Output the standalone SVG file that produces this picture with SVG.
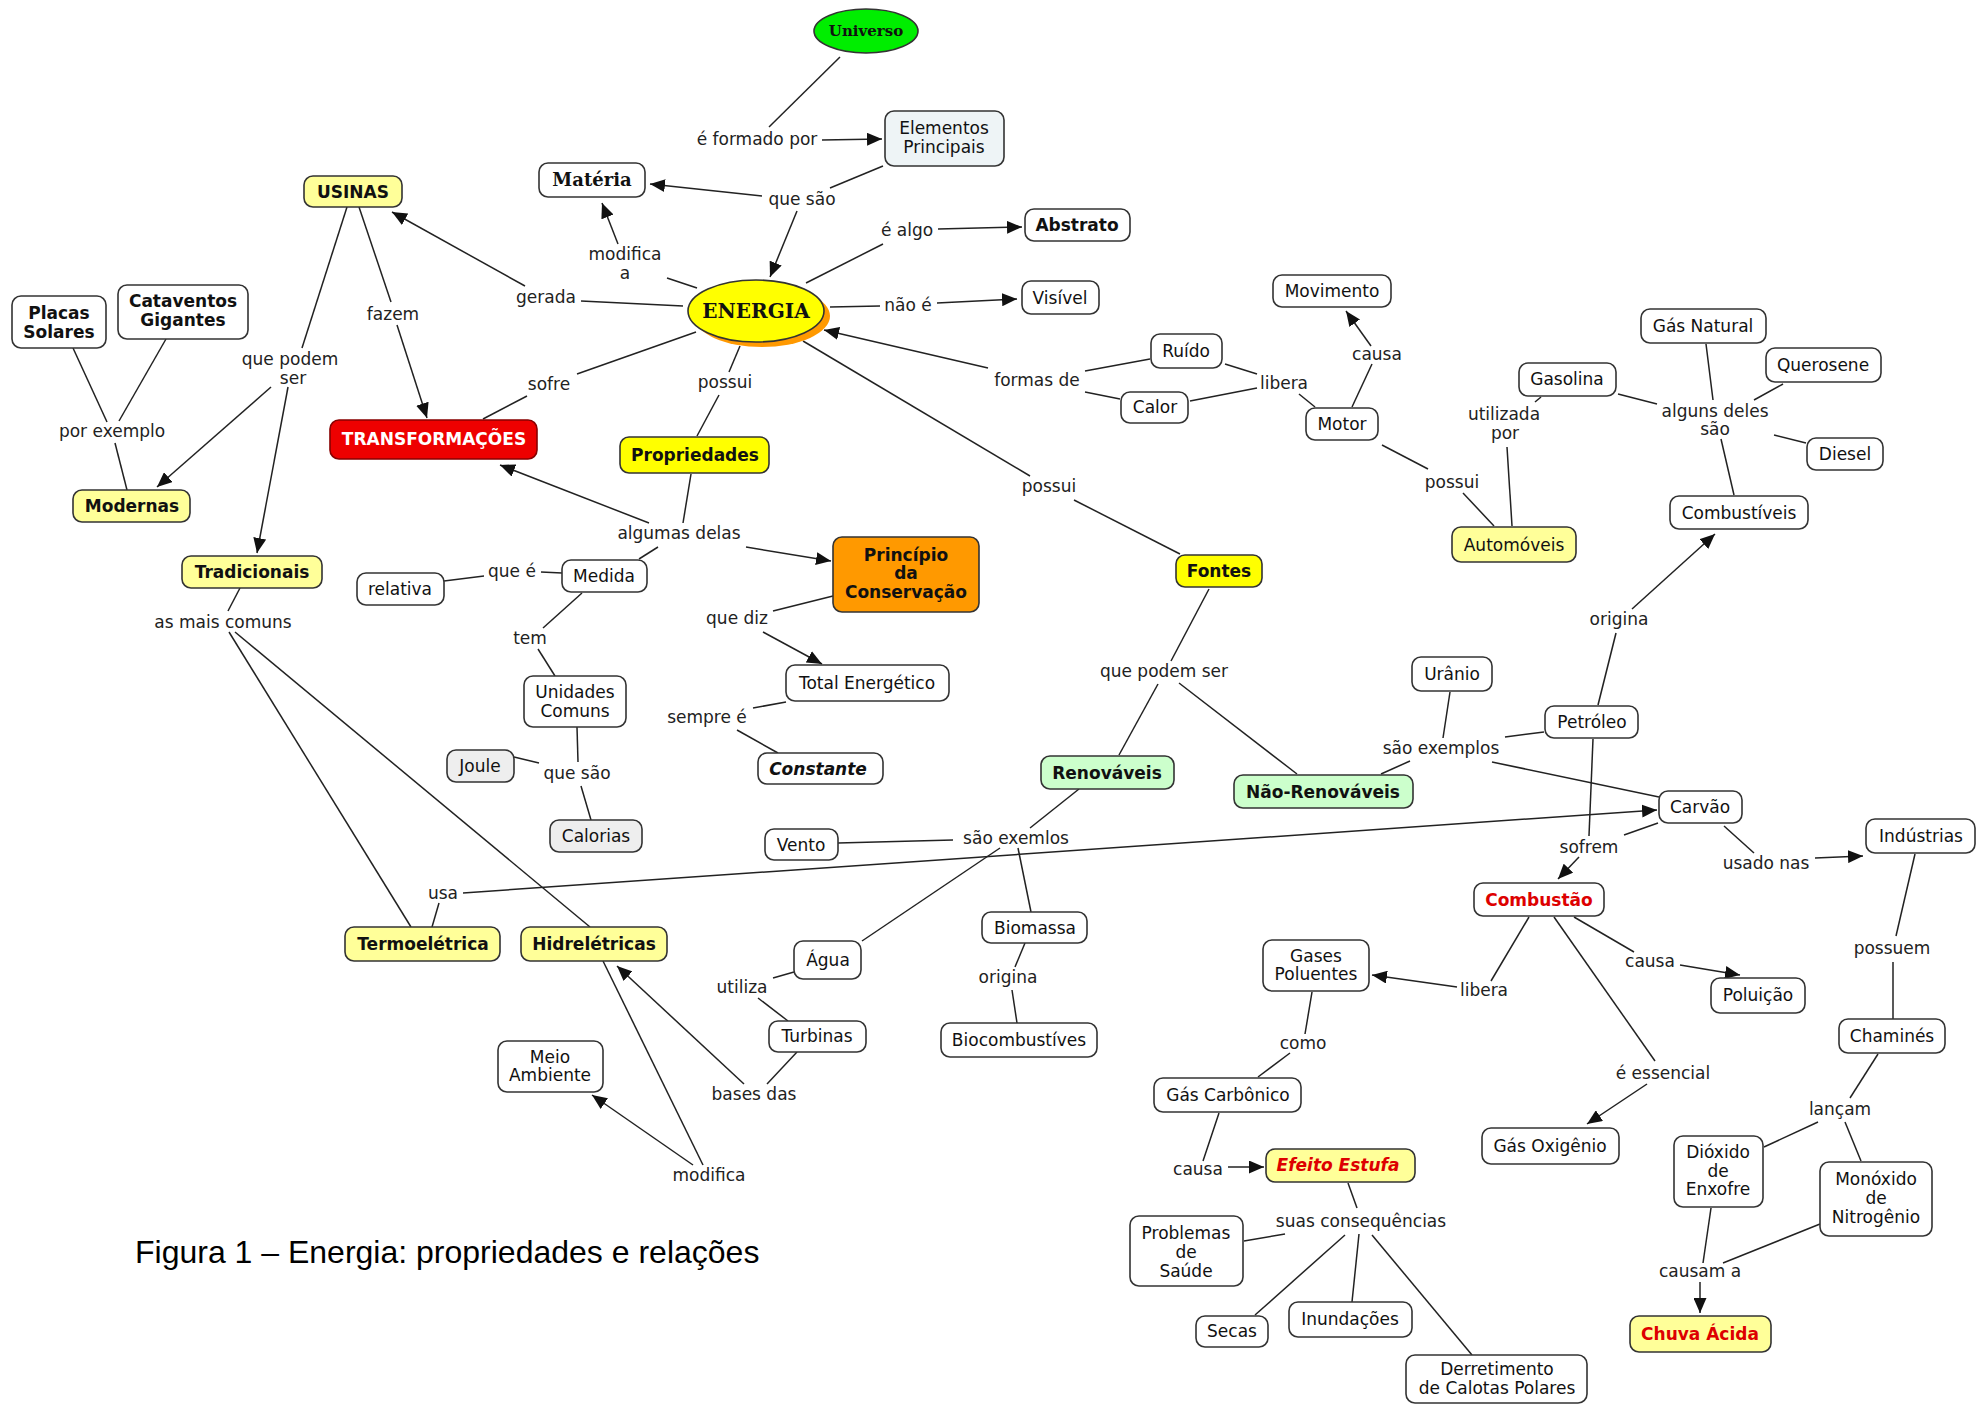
<svg xmlns="http://www.w3.org/2000/svg" width="1977" height="1406" viewBox="0 0 1977 1406">
<defs>
<marker id="ah" viewBox="0 0 15 13" refX="15" refY="6.5" markerWidth="15" markerHeight="13" markerUnits="userSpaceOnUse" orient="auto"><path d="M0,0 L15,6.5 L0,13 z" fill="#111"/></marker>
<style>
text{font-family:"DejaVu Sans",Verdana,sans-serif;font-size:17px;text-anchor:middle;fill:#111}
.b{font-weight:bold}
.i{font-style:italic}
.s{font-family:"DejaVu Serif",serif;font-weight:bold}
.red{fill:#dd0000}
.w{fill:#fff}
.lbl text{fill:#222}
rect{fill:#fff;stroke:#333;stroke-width:1.6}
.y rect{fill:#ffff99}
.yy rect{fill:#ffff00}
.g rect{fill:#ccffcc}
.gr rect{fill:#eeeeee}
.o rect{fill:#ff9900}
.cap{font-family:"Liberation Sans",Arial,sans-serif;font-size:32px;text-anchor:start;fill:#000}
#connectors line{stroke:#222;stroke-width:1.5}
#connectors .a{marker-end:url(#ah)}
</style>
</defs>
<rect x="0" y="0" width="1977" height="1406" style="fill:#fff;stroke:none"/>

<g id="connectors">
<line x1="840" y1="57" x2="769" y2="127"/>
<line class="a" x1="822" y1="140" x2="882" y2="139"/>
<line x1="883" y1="166" x2="830" y2="188"/>
<line class="a" x1="762" y1="196" x2="650" y2="184"/>
<line class="a" x1="797" y1="211" x2="770" y2="277"/>
<line x1="806" y1="283" x2="883" y2="244"/>
<line class="a" x1="938" y1="229" x2="1022" y2="227"/>
<line x1="697" y1="288" x2="667" y2="278"/>
<line class="a" x1="618" y1="244" x2="602" y2="203"/>
<line x1="683" y1="306" x2="581" y2="301"/>
<line class="a" x1="525" y1="286" x2="392" y2="212"/>
<line x1="830" y1="307" x2="880" y2="306"/>
<line class="a" x1="937" y1="303" x2="1017" y2="299"/>
<line x1="696" y1="332" x2="577" y2="374"/>
<line x1="527" y1="396" x2="483" y2="419"/>
<line x1="740" y1="346" x2="729" y2="372"/>
<line x1="719" y1="395" x2="697" y2="436"/>
<line class="a" x1="988" y1="368" x2="824" y2="330"/>
<line x1="1085" y1="371" x2="1150" y2="359"/>
<line x1="1085" y1="392" x2="1120" y2="399"/>
<line x1="1225" y1="364" x2="1257" y2="374"/>
<line x1="1190" y1="401" x2="1257" y2="388"/>
<line x1="1299" y1="394" x2="1315" y2="407"/>
<line x1="1352" y1="407" x2="1372" y2="364"/>
<line class="a" x1="1371" y1="346" x2="1346" y2="311"/>
<line x1="1382" y1="445" x2="1428" y2="469"/>
<line x1="1463" y1="493" x2="1494" y2="526"/>
<line x1="1541" y1="397" x2="1535" y2="402"/>
<line x1="1507" y1="447" x2="1512" y2="526"/>
<line x1="1618" y1="394" x2="1657" y2="404"/>
<line x1="1706" y1="344" x2="1713" y2="400"/>
<line x1="1783" y1="384" x2="1754" y2="400"/>
<line x1="1774" y1="435" x2="1806" y2="443"/>
<line x1="1721" y1="439" x2="1734" y2="495"/>
<line x1="803" y1="341" x2="1030" y2="476"/>
<line x1="1074" y1="500" x2="1180" y2="554"/>
<line x1="1209" y1="589" x2="1171" y2="661"/>
<line x1="1158" y1="684" x2="1119" y2="755"/>
<line x1="1179" y1="683" x2="1297" y2="774"/>
<line x1="1381" y1="774" x2="1410" y2="761"/>
<line x1="1450" y1="692" x2="1443" y2="738"/>
<line x1="1505" y1="737" x2="1544" y2="732"/>
<line x1="1492" y1="762" x2="1659" y2="797"/>
<line x1="1598" y1="705" x2="1616" y2="633"/>
<line class="a" x1="1632" y1="609" x2="1715" y2="534"/>
<line x1="1593" y1="739" x2="1589" y2="836"/>
<line x1="1658" y1="823" x2="1624" y2="835"/>
<line class="a" x1="1579" y1="857" x2="1558" y2="879"/>
<line x1="1724" y1="826" x2="1754" y2="853"/>
<line class="a" x1="1815" y1="858" x2="1863" y2="856"/>
<line x1="1915" y1="854" x2="1896" y2="936"/>
<line x1="1893" y1="962" x2="1893" y2="1019"/>
<line x1="1878" y1="1054" x2="1850" y2="1098"/>
<line x1="1818" y1="1122" x2="1764" y2="1147"/>
<line x1="1845" y1="1122" x2="1861" y2="1161"/>
<line x1="1711" y1="1208" x2="1703" y2="1263"/>
<line x1="1820" y1="1224" x2="1723" y2="1263"/>
<line class="a" x1="1700" y1="1282" x2="1700" y2="1313"/>
<line x1="1574" y1="917" x2="1634" y2="952"/>
<line class="a" x1="1680" y1="965" x2="1740" y2="975"/>
<line x1="1554" y1="917" x2="1655" y2="1061"/>
<line class="a" x1="1647" y1="1084" x2="1587" y2="1124"/>
<line x1="1529" y1="917" x2="1491" y2="981"/>
<line class="a" x1="1457" y1="987" x2="1372" y2="975"/>
<line x1="1312" y1="992" x2="1305" y2="1034"/>
<line x1="1290" y1="1053" x2="1258" y2="1077"/>
<line x1="1219" y1="1113" x2="1203" y2="1161"/>
<line class="a" x1="1228" y1="1167" x2="1264" y2="1167"/>
<line x1="1348" y1="1183" x2="1357" y2="1208"/>
<line x1="1285" y1="1234" x2="1244" y2="1241"/>
<line x1="1345" y1="1235" x2="1255" y2="1315"/>
<line x1="1359" y1="1234" x2="1352" y2="1302"/>
<line x1="1372" y1="1235" x2="1472" y2="1355"/>
<line x1="691" y1="474" x2="683" y2="523"/>
<line class="a" x1="649" y1="523" x2="500" y2="465"/>
<line class="a" x1="746" y1="547" x2="831" y2="561"/>
<line x1="658" y1="547" x2="639" y2="559"/>
<line x1="562" y1="573" x2="541" y2="572"/>
<line x1="484" y1="576" x2="444" y2="581"/>
<line x1="582" y1="593" x2="543" y2="628"/>
<line x1="538" y1="649" x2="555" y2="676"/>
<line x1="577" y1="727" x2="578" y2="762"/>
<line x1="539" y1="763" x2="514" y2="757"/>
<line x1="581" y1="786" x2="591" y2="820"/>
<line x1="833" y1="596" x2="773" y2="611"/>
<line class="a" x1="763" y1="632" x2="822" y2="664"/>
<line x1="786" y1="702" x2="753" y2="708"/>
<line x1="737" y1="730" x2="778" y2="753"/>
<line x1="347" y1="207" x2="302" y2="348"/>
<line x1="359" y1="207" x2="391" y2="302"/>
<line class="a" x1="397" y1="325" x2="427" y2="418"/>
<line class="a" x1="271" y1="387" x2="157" y2="487"/>
<line class="a" x1="288" y1="387" x2="257" y2="553"/>
<line x1="73" y1="348" x2="107" y2="422"/>
<line x1="166" y1="339" x2="119" y2="421"/>
<line x1="115" y1="443" x2="127" y2="490"/>
<line x1="240" y1="588" x2="228" y2="611"/>
<line x1="229" y1="632" x2="411" y2="927"/>
<line x1="235" y1="632" x2="590" y2="927"/>
<line x1="432" y1="927" x2="439" y2="903"/>
<line class="a" x1="463" y1="893" x2="1657" y2="810"/>
<line x1="1079" y1="789" x2="1030" y2="828"/>
<line x1="838" y1="843" x2="953" y2="840"/>
<line x1="1000" y1="848" x2="862" y2="941"/>
<line x1="1018" y1="848" x2="1031" y2="912"/>
<line x1="1025" y1="943" x2="1015" y2="967"/>
<line x1="1012" y1="990" x2="1017" y2="1023"/>
<line x1="794" y1="972" x2="773" y2="978"/>
<line x1="758" y1="998" x2="788" y2="1021"/>
<line x1="797" y1="1052" x2="767" y2="1084"/>
<line class="a" x1="744" y1="1084" x2="617" y2="966"/>
<line x1="603" y1="961" x2="703" y2="1165"/>
<line class="a" x1="693" y1="1165" x2="592" y2="1095"/>
</g>

<g class="lbl">
<text x="757" y="145">é formado por</text>
<text x="802" y="205">que são</text>
<text x="907" y="236">é algo</text>
<text x="625" y="260">modifica</text>
<text x="625" y="279">a</text>
<text x="546" y="303">gerada</text>
<text x="908" y="311">não é</text>
<text x="549" y="390">sofre</text>
<text x="725" y="388">possui</text>
<text x="393" y="320">fazem</text>
<text x="290" y="365">que podem</text>
<text x="293" y="384">ser</text>
<text x="112" y="437">por exemplo</text>
<text x="223" y="628">as mais comuns</text>
<text x="679" y="539">algumas delas</text>
<text x="512" y="577">que é</text>
<text x="530" y="644">tem</text>
<text x="577" y="779">que são</text>
<text x="737" y="624">que diz</text>
<text x="707" y="723">sempre é</text>
<text x="1037" y="386">formas de</text>
<text x="1284" y="389">libera</text>
<text x="1377" y="360">causa</text>
<text x="1049" y="492">possui</text>
<text x="1452" y="488">possui</text>
<text x="1504" y="420">utilizada</text>
<text x="1505" y="439">por</text>
<text x="1715" y="417">alguns deles</text>
<text x="1715" y="435">são</text>
<text x="1619" y="625">origina</text>
<text x="1164" y="677">que podem ser</text>
<text x="1441" y="754">são exemplos</text>
<text x="1016" y="844">são exemlos</text>
<text x="443" y="899">usa</text>
<text x="742" y="993">utiliza</text>
<text x="754" y="1100">bases das</text>
<text x="709" y="1181">modifica</text>
<text x="1008" y="983">origina</text>
<text x="1589" y="853">sofrem</text>
<text x="1766" y="869">usado nas</text>
<text x="1892" y="954">possuem</text>
<text x="1840" y="1115">lançam</text>
<text x="1700" y="1277">causam a</text>
<text x="1650" y="967">causa</text>
<text x="1663" y="1079">é essencial</text>
<text x="1484" y="996">libera</text>
<text x="1303" y="1049">como</text>
<text x="1198" y="1175">causa</text>
<text x="1361" y="1227">suas consequências</text>
</g>

<g id="n-universo"><ellipse cx="866" cy="31" rx="52" ry="22" fill="#00ee00" stroke="#333" stroke-width="1.6"/><text class="s" x="866" y="36" style="font-size:15px">Universo</text></g>
<g id="n-elementos"><rect x="885" y="111" width="119" height="55" rx="9" style="fill:#eef4f6"/><text x="944" y="134">Elementos</text><text x="944" y="153">Principais</text></g>
<g id="n-materia"><rect x="539" y="163" width="106" height="34" rx="9"/><text class="s" x="592" y="186" style="font-size:18px">Matéria</text></g>
<g id="n-abstrato"><rect x="1025" y="209" width="105" height="32" rx="9"/><text class="b" x="1077" y="231">Abstrato</text></g>
<g id="n-visivel"><rect x="1022" y="281" width="77" height="33" rx="9"/><text x="1060" y="304">Visível</text></g>
<g id="n-energia"><ellipse cx="762" cy="316" rx="68" ry="31" fill="#ff9900"/><ellipse cx="756" cy="311" rx="68" ry="31" fill="#ffff00" stroke="#333" stroke-width="1.6"/><text class="s" x="756" y="318" style="font-size:20px">ENERGIA</text></g>
<g id="n-usinas" class="y"><rect x="304" y="176" width="98" height="31" rx="9"/><text class="b" x="353" y="198">USINAS</text></g>
<g id="n-placas"><rect x="12" y="296" width="94" height="52" rx="9"/><text class="b" x="59" y="319">Placas</text><text class="b" x="59" y="338">Solares</text></g>
<g id="n-cataventos"><rect x="118" y="285" width="130" height="54" rx="9"/><text class="b" x="183" y="307">Cataventos</text><text class="b" x="183" y="326">Gigantes</text></g>
<g id="n-transf"><rect x="330" y="420" width="207" height="39" rx="9" style="fill:#ee0000;stroke:#880000"/><text class="b w" x="434" y="445">TRANSFORMAÇÕES</text></g>
<g id="n-modernas" class="y"><rect x="73" y="490" width="117" height="32" rx="9"/><text class="b" x="132" y="512">Modernas</text></g>
<g id="n-tradicionais" class="y"><rect x="182" y="556" width="140" height="32" rx="9"/><text class="b" x="252" y="578">Tradicionais</text></g>
<g id="n-propriedades" class="yy"><rect x="620" y="437" width="149" height="36" rx="9"/><text class="b" x="695" y="461">Propriedades</text></g>
<g id="n-principio" class="o"><rect x="833" y="537" width="146" height="75" rx="9"/><text class="b" x="906" y="561">Princípio</text><text class="b" x="906" y="579">da</text><text class="b" x="906" y="598">Conservação</text></g>
<g id="n-medida"><rect x="562" y="560" width="85" height="32" rx="9"/><text x="604" y="582">Medida</text></g>
<g id="n-relativa"><rect x="357" y="573" width="87" height="32" rx="9"/><text x="400" y="595">relativa</text></g>
<g id="n-unidades"><rect x="524" y="676" width="102" height="51" rx="9"/><text x="575" y="698">Unidades</text><text x="575" y="717">Comuns</text></g>
<g id="n-joule" class="gr"><rect x="447" y="750" width="67" height="32" rx="9"/><text x="480" y="772">Joule</text></g>
<g id="n-calorias" class="gr"><rect x="550" y="820" width="92" height="32" rx="9"/><text x="596" y="842">Calorias</text></g>
<g id="n-total"><rect x="786" y="665" width="163" height="36" rx="9"/><text x="867" y="689">Total Energético</text></g>
<g id="n-constante"><rect x="758" y="753" width="125" height="31" rx="9"/><text class="b i" x="818" y="775">Constante</text></g>
<g id="n-fontes" class="yy"><rect x="1176" y="555" width="86" height="32" rx="9"/><text class="b" x="1219" y="577">Fontes</text></g>
<g id="n-renovaveis" class="g"><rect x="1041" y="756" width="133" height="33" rx="9"/><text class="b" x="1107" y="779">Renováveis</text></g>
<g id="n-naorenovaveis" class="g"><rect x="1234" y="775" width="179" height="33" rx="9"/><text class="b" x="1323" y="798">Não-Renováveis</text></g>
<g id="n-vento"><rect x="765" y="829" width="73" height="31" rx="9"/><text x="801" y="851">Vento</text></g>
<g id="n-agua"><rect x="794" y="941" width="67" height="38" rx="9"/><text x="828" y="966">Água</text></g>
<g id="n-biomassa"><rect x="982" y="912" width="105" height="31" rx="9"/><text x="1035" y="934">Biomassa</text></g>
<g id="n-biocomb"><rect x="941" y="1023" width="156" height="34" rx="9"/><text x="1019" y="1046">Biocombustíves</text></g>
<g id="n-turbinas"><rect x="769" y="1021" width="97" height="31" rx="9"/><text x="817" y="1042">Turbinas</text></g>
<g id="n-meio"><rect x="498" y="1041" width="105" height="51" rx="9"/><text x="550" y="1063">Meio</text><text x="550" y="1081">Ambiente</text></g>
<g id="n-termo" class="y"><rect x="345" y="927" width="155" height="34" rx="9"/><text class="b" x="423" y="950">Termoelétrica</text></g>
<g id="n-hidro" class="y"><rect x="521" y="927" width="146" height="34" rx="9"/><text class="b" x="594" y="950">Hidrelétricas</text></g>
<g id="n-ruido"><rect x="1151" y="334" width="71" height="34" rx="9"/><text x="1186" y="357">Ruído</text></g>
<g id="n-calor"><rect x="1121" y="392" width="67" height="31" rx="9"/><text x="1155" y="413">Calor</text></g>
<g id="n-motor"><rect x="1306" y="408" width="72" height="32" rx="9"/><text x="1342" y="430">Motor</text></g>
<g id="n-movimento"><rect x="1273" y="275" width="118" height="32" rx="9"/><text x="1332" y="297">Movimento</text></g>
<g id="n-gasolina"><rect x="1519" y="363" width="97" height="33" rx="9"/><text x="1567" y="385">Gasolina</text></g>
<g id="n-gasnatural"><rect x="1641" y="309" width="125" height="34" rx="9"/><text x="1703" y="332">Gás Natural</text></g>
<g id="n-querosene"><rect x="1766" y="348" width="115" height="34" rx="9"/><text x="1823" y="371">Querosene</text></g>
<g id="n-diesel"><rect x="1807" y="438" width="76" height="32" rx="9"/><text x="1845" y="460">Diesel</text></g>
<g id="n-combustiveis"><rect x="1670" y="496" width="138" height="33" rx="9"/><text x="1739" y="519">Combustíveis</text></g>
<g id="n-automoveis" class="y"><rect x="1452" y="527" width="124" height="35" rx="9"/><text x="1514" y="551">Automóveis</text></g>
<g id="n-uranio"><rect x="1412" y="657" width="80" height="34" rx="9"/><text x="1452" y="680">Urânio</text></g>
<g id="n-petroleo"><rect x="1545" y="706" width="93" height="32" rx="9"/><text x="1592" y="728">Petróleo</text></g>
<g id="n-carvao"><rect x="1659" y="791" width="83" height="32" rx="9"/><text x="1700" y="813">Carvão</text></g>
<g id="n-industrias"><rect x="1866" y="819" width="109" height="34" rx="9"/><text x="1921" y="842">Indústrias</text></g>
<g id="n-combustao"><rect x="1474" y="883" width="130" height="33" rx="9"/><text class="b red" x="1539" y="906">Combustão</text></g>
<g id="n-gases"><rect x="1263" y="940" width="106" height="51" rx="9"/><text x="1316" y="962">Gases</text><text x="1316" y="980">Poluentes</text></g>
<g id="n-gascarb"><rect x="1154" y="1078" width="147" height="34" rx="9"/><text x="1228" y="1101">Gás Carbônico</text></g>
<g id="n-efeito" class="y"><rect x="1266" y="1149" width="149" height="33" rx="9"/><text class="b i red" x="1338" y="1171">Efeito Estufa</text></g>
<g id="n-problemas"><rect x="1130" y="1216" width="113" height="70" rx="9"/><text x="1186" y="1239">Problemas</text><text x="1186" y="1258">de</text><text x="1186" y="1277">Saúde</text></g>
<g id="n-secas"><rect x="1196" y="1316" width="72" height="31" rx="9"/><text x="1232" y="1337">Secas</text></g>
<g id="n-inundacoes"><rect x="1289" y="1302" width="123" height="35" rx="9"/><text x="1350" y="1325">Inundações</text></g>
<g id="n-derretimento"><rect x="1406" y="1355" width="181" height="48" rx="9"/><text x="1497" y="1375">Derretimento</text><text x="1497" y="1394">de Calotas Polares</text></g>
<g id="n-oxigenio"><rect x="1482" y="1128" width="137" height="36" rx="9"/><text x="1550" y="1152">Gás Oxigênio</text></g>
<g id="n-poluicao"><rect x="1711" y="978" width="94" height="35" rx="9"/><text x="1758" y="1001">Poluição</text></g>
<g id="n-chamines"><rect x="1839" y="1019" width="106" height="34" rx="9"/><text x="1892" y="1042">Chaminés</text></g>
<g id="n-dioxido"><rect x="1674" y="1136" width="89" height="71" rx="9"/><text x="1718" y="1158">Dióxido</text><text x="1718" y="1177">de</text><text x="1718" y="1195">Enxofre</text></g>
<g id="n-monoxido"><rect x="1820" y="1162" width="112" height="74" rx="9"/><text x="1876" y="1185">Monóxido</text><text x="1876" y="1204">de</text><text x="1876" y="1223">Nitrogênio</text></g>
<g id="n-chuva" class="y"><rect x="1630" y="1316" width="141" height="36" rx="9"/><text class="b red" x="1700" y="1340">Chuva Ácida</text></g>

<text class="cap" x="135" y="1263">Figura 1 – Energia: propriedades e relações</text>
</svg>
